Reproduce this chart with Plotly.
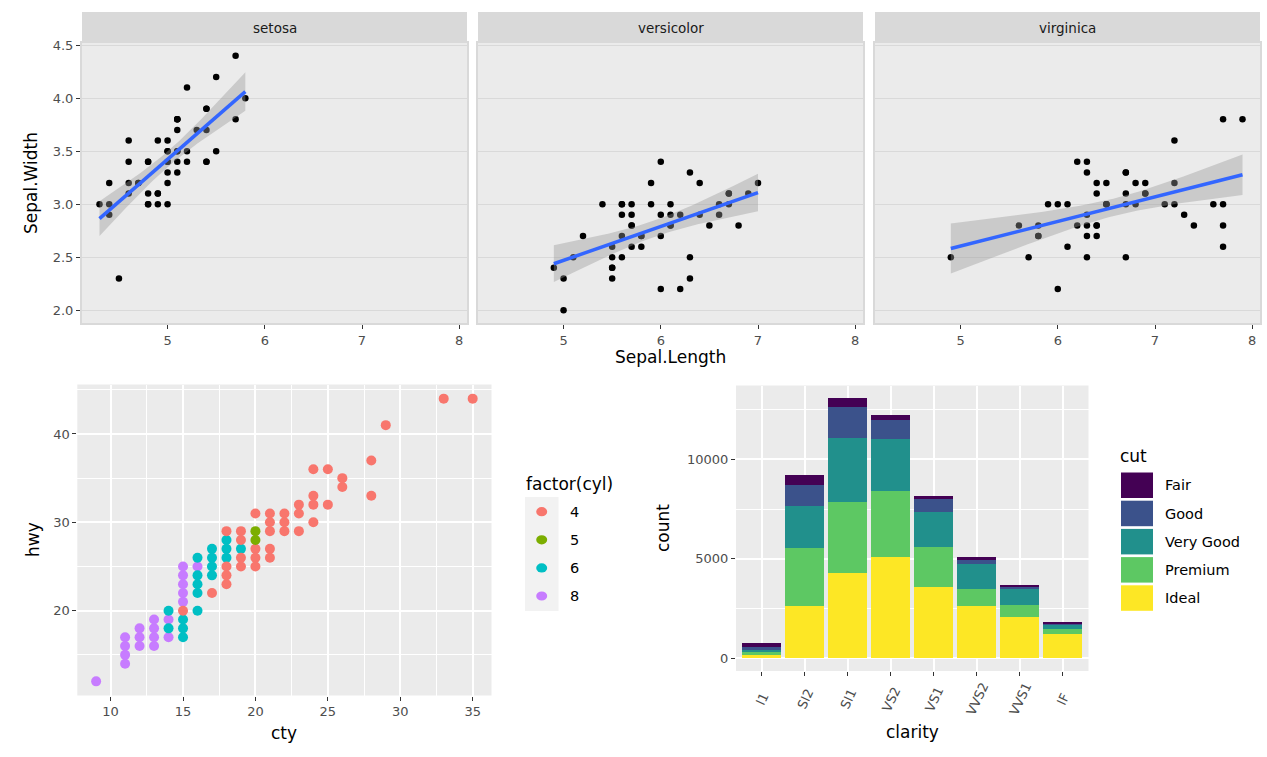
import numpy as np
import plotly.graph_objects as go

# ---------------- DATA ----------------
# iris (Sepal.Length / Sepal.Width) by species
species = ["setosa", "versicolor", "virginica"]
setosa_sl = [5.1,4.9,4.7,4.6,5.0,5.4,4.6,5.0,4.4,4.9,5.4,4.8,4.8,4.3,5.8,5.7,5.4,5.1,5.7,5.1,
             5.4,5.1,4.6,5.1,4.8,5.0,5.0,5.2,5.2,4.7,4.8,5.4,5.2,5.5,4.9,5.0,5.5,4.9,4.4,5.1,
             5.0,4.5,4.4,5.0,5.1,4.8,5.1,4.6,5.3,5.0]
setosa_sw = [3.5,3.0,3.2,3.1,3.6,3.9,3.4,3.4,2.9,3.1,3.7,3.4,3.0,3.0,4.0,4.4,3.9,3.5,3.8,3.8,
             3.4,3.7,3.6,3.3,3.4,3.0,3.4,3.5,3.4,3.2,3.1,3.4,4.1,4.2,3.1,3.2,3.5,3.6,3.0,3.4,
             3.5,2.3,3.2,3.5,3.8,3.0,3.8,3.2,3.7,3.3]
versicolor_sl = [7.0,6.4,6.9,5.5,6.5,5.7,6.3,4.9,6.6,5.2,5.0,5.9,6.0,6.1,5.6,6.7,5.6,5.8,6.2,5.6,
                 5.9,6.1,6.3,6.1,6.4,6.6,6.8,6.7,6.0,5.7,5.5,5.5,5.8,6.0,5.4,6.0,6.7,6.3,5.6,5.5,
                 5.5,6.1,5.8,5.0,5.6,5.7,5.7,6.2,5.1,5.7]
versicolor_sw = [3.2,3.2,3.1,2.3,2.8,2.8,3.3,2.4,2.9,2.7,2.0,3.0,2.2,2.9,2.9,3.1,3.0,2.7,2.2,2.5,
                 3.2,2.8,2.5,2.8,2.9,3.0,2.8,3.0,2.9,2.6,2.4,2.4,2.7,2.7,3.0,3.4,3.1,2.3,3.0,2.5,
                 2.6,3.0,2.6,2.3,2.7,3.0,2.9,2.9,2.5,2.8]
virginica_sl = [6.3,5.8,7.1,6.3,6.5,7.6,4.9,7.3,6.7,7.2,6.5,6.4,6.8,5.7,5.8,6.4,6.5,7.7,7.7,6.0,
                6.9,5.6,7.7,6.3,6.7,7.2,6.2,6.1,6.4,7.2,7.4,7.9,6.4,6.3,6.1,7.7,6.3,6.4,6.0,6.9,
                6.7,6.9,5.8,6.8,6.7,6.7,6.3,6.5,6.2,5.9]
virginica_sw = [3.3,2.7,3.0,2.9,3.0,3.0,2.5,2.9,2.5,3.6,3.2,2.7,3.0,2.5,2.8,3.2,3.0,3.8,2.6,2.2,
                3.2,2.8,2.8,2.7,3.3,3.2,2.8,3.0,2.8,3.0,2.8,3.8,2.8,2.8,2.6,3.0,3.4,3.1,3.0,3.1,
                3.1,3.1,2.7,3.2,3.3,3.0,2.5,3.0,3.4,3.0]
sl_ticks = [5, 6, 7, 8]
sw_ticks = [2.0, 2.5, 3.0, 3.5, 4.0, 4.5]

# mpg: distinct (cty, hwy) positions visible, by cylinders
cyl_levels = [4, 5, 6, 8]
cyl8_cty = [9, 11, 11, 11, 11, 12, 12, 12, 13, 13, 13, 13, 14, 14, 15, 15, 15, 15, 15, 16]
cyl8_hwy = [12, 14, 15, 16, 17, 16, 17, 18, 16, 17, 18, 19, 17, 19, 21, 22, 23, 24, 25, 25]
cyl6_cty = [14, 14, 15, 15, 15, 16, 16, 16, 16, 16, 17, 17, 17, 17, 18, 18, 18, 19]
cyl6_hwy = [20, 18, 19, 18, 17, 26, 24, 23, 22, 20, 27, 26, 25, 24, 28, 27, 26, 27]
cyl4_cty = [15, 17, 18, 18, 18, 18, 19, 19, 19, 19, 20, 20, 20, 20, 21, 21, 21, 21, 21,
            22, 22, 22, 23, 23, 23, 24, 24, 24, 24, 25, 25, 26, 26, 28, 28, 29, 33, 35]
cyl4_hwy = [20, 22, 29, 25, 24, 23, 29, 28, 26, 25, 31, 27, 26, 25, 31, 30, 29, 27, 26,
            31, 30, 29, 32, 31, 29, 30, 32, 33, 36, 32, 36, 34, 35, 33, 37, 41, 44, 44]
cyl5_cty = [20, 20]
cyl5_hwy = [29, 28]
cty_ticks = [10, 15, 20, 25, 30, 35]
hwy_ticks = [20, 30, 40]

# diamonds: counts by clarity (x) and cut (stack)
clarity = ["I1", "SI2", "SI1", "VS2", "VS1", "VVS2", "VVS1", "IF"]
cuts = ["Fair", "Good", "Very Good", "Premium", "Ideal"]
fair = [210, 466, 408, 261, 170, 69, 17, 9]
good = [96, 1081, 1560, 978, 648, 286, 186, 71]
very_good = [84, 2100, 3240, 2591, 1775, 1235, 789, 268]
premium = [205, 2949, 3575, 3357, 1989, 870, 616, 230]
ideal = [146, 2598, 4282, 5071, 3589, 2606, 2047, 1212]
count_ticks = [0, 5000, 10000]

# ---------------- STYLE ----------------
W, H = 1267, 757
def px(x): return x / W
def py(y): return 1 - y / H

FONT = "DejaVu Sans, Liberation Sans, Arial, sans-serif"
TICK_FONT = dict(family=FONT, size=13, color="#4D4D4D")
TITLE_FONT = dict(family=FONT, size=17, color="black")
LEG_FONT = dict(family=FONT, size=14.5, color="black")
HUE = {4: "#F8766D", 5: "#7CAE00", 6: "#00BFC4", 8: "#C77CFF"}
VIRIDIS = {"Fair": "#440154", "Good": "#3B528B", "Very Good": "#21908C",
           "Premium": "#5DC863", "Ideal": "#FDE725"}

def expand(lo, hi, mult=0.05):
    span = hi - lo
    return [lo - mult * span, hi + mult * span]

fig = go.Figure()

# ---------------- TOP: iris facets ----------------
iris = {"setosa": (setosa_sl, setosa_sw),
        "versicolor": (versicolor_sl, versicolor_sw),
        "virginica": (virginica_sl, virginica_sw)}
T975_48 = 2.0106348
axis_ids = ["", "2", "3"]
for sp, aid in zip(species, axis_ids):
    xs = np.array(iris[sp][0], dtype=float)
    ys = np.array(iris[sp][1], dtype=float)
    xa, ya = "x" + aid, "y" + aid
    fig.add_trace(go.Scatter(x=xs, y=ys, mode="markers", xaxis=xa, yaxis=ya,
                             marker=dict(color="black", size=6.5), showlegend=False,
                             hoverinfo="skip"))
    # linear model smoother with 95% CI (as geom_smooth(method = "lm"))
    n = len(xs)
    xbar = xs.mean()
    sxx = ((xs - xbar) ** 2).sum()
    b = ((xs - xbar) * (ys - ys.mean())).sum() / sxx
    a = ys.mean() - b * xbar
    s = np.sqrt(((ys - (a + b * xs)) ** 2).sum() / (n - 2))
    grid = np.linspace(xs.min(), xs.max(), 80)
    fit = a + b * grid
    se = s * np.sqrt(1.0 / n + (grid - xbar) ** 2 / sxx)
    lo, hi = fit - T975_48 * se, fit + T975_48 * se
    fig.add_trace(go.Scatter(x=np.concatenate([grid, grid[::-1]]),
                             y=np.concatenate([hi, lo[::-1]]),
                             fill="toself", fillcolor="rgba(153,153,153,0.4)",
                             mode="lines", line=dict(width=0), xaxis=xa, yaxis=ya,
                             showlegend=False, hoverinfo="skip"))
    fig.add_trace(go.Scatter(x=grid, y=fit, mode="lines", xaxis=xa, yaxis=ya,
                             line=dict(color="#3366FF", width=3.5), showlegend=False,
                             hoverinfo="skip"))

all_sl = setosa_sl + versicolor_sl + virginica_sl
all_sw = setosa_sw + versicolor_sw + virginica_sw
sl_range = expand(min(all_sl), max(all_sl))
sw_range = expand(min(all_sw), max(all_sw))

top_panels = [(82, 467), (478, 863), (875, 1260)]
TOP_Y0, TOP_Y1 = 43, 323
for i, ((x0, x1), aid) in enumerate(zip(top_panels, axis_ids)):
    xkey = "xaxis" + aid
    ykey = "yaxis" + aid
    fig.layout[xkey] = dict(domain=[px(x0), px(x1)], anchor="y" + aid, range=sl_range,
                            tickmode="array", tickvals=sl_ticks, ticks="outside", ticklen=4,
                            tickwidth=1, tickcolor="#333333", showgrid=False, zeroline=False,
                            showline=True, mirror=True, linecolor="#D9D9D9", linewidth=2,
                            tickfont=TICK_FONT, automargin=False)
    fig.layout[ykey] = dict(domain=[py(TOP_Y1), py(TOP_Y0)], anchor="x" + aid, range=sw_range,
                            tickmode="array", tickvals=sw_ticks, tickformat=".1f",
                            ticks="outside" if i == 0 else "", ticklen=4, tickwidth=1,
                            tickcolor="#333333", showticklabels=(i == 0),
                            showgrid=True, gridcolor="#D9D9D9", gridwidth=1.3,
                            zeroline=False, showline=True, mirror=True,
                            linecolor="#D9D9D9", linewidth=2, tickfont=TICK_FONT,
                            automargin=False)

shapes = []
annotations = []
for (x0, x1), sp in zip(top_panels, species):
    shapes.append(dict(type="rect", xref="paper", yref="paper", x0=px(x0), x1=px(x1),
                       y0=py(TOP_Y0), y1=py(12), fillcolor="#D9D9D9", line=dict(width=0)))
    annotations.append(dict(text=sp, xref="paper", yref="paper", x=px((x0 + x1) / 2),
                            y=py(28), showarrow=False, xanchor="center", yanchor="middle",
                            font=dict(family=FONT, size=13.5, color="#1A1A1A")))

annotations.append(dict(text="Sepal.Length", xref="paper", yref="paper", x=px(670), y=py(357),
                        showarrow=False, xanchor="center", yanchor="middle", font=TITLE_FONT))
annotations.append(dict(text="Sepal.Width", xref="paper", yref="paper", x=px(31), y=py(183),
                        showarrow=False, xanchor="center", yanchor="middle", textangle=-90,
                        font=TITLE_FONT))

# ---------------- BOTTOM LEFT: mpg scatter ----------------
mpg = {8: (cyl8_cty, cyl8_hwy), 6: (cyl6_cty, cyl6_hwy),
       4: (cyl4_cty, cyl4_hwy), 5: (cyl5_cty, cyl5_hwy)}
for cyl in [8, 6, 4, 5]:
    c, h = mpg[cyl]
    fig.add_trace(go.Scatter(x=c, y=h, mode="markers", xaxis="x4", yaxis="y4",
                             marker=dict(color=HUE[cyl], size=10), name=str(cyl),
                             showlegend=False, hoverinfo="skip"))

all_cty = cyl4_cty + cyl5_cty + cyl6_cty + cyl8_cty
all_hwy = cyl4_hwy + cyl5_hwy + cyl6_hwy + cyl8_hwy
fig.layout["xaxis4"] = dict(domain=[px(77.3), px(491.5)], anchor="y4",
                            range=expand(min(all_cty), max(all_cty)),
                            tickmode="array", tickvals=cty_ticks, ticks="outside", ticklen=4,
                            tickwidth=1, tickcolor="#333333", showgrid=True, gridcolor="white",
                            gridwidth=2, zeroline=False, showline=False, tickfont=TICK_FONT,
                            automargin=False,
                            minor=dict(tickmode="linear", tick0=0, dtick=2.5, showgrid=True,
                                       gridcolor="white", gridwidth=1))
fig.layout["yaxis4"] = dict(domain=[py(695.5), py(384.5)], anchor="x4",
                            range=expand(min(all_hwy), max(all_hwy)),
                            tickmode="array", tickvals=hwy_ticks, ticks="outside", ticklen=4,
                            tickwidth=1, tickcolor="#333333", showgrid=True, gridcolor="white",
                            gridwidth=2, zeroline=False, showline=False, tickfont=TICK_FONT,
                            automargin=False,
                            minor=dict(tickmode="linear", tick0=0, dtick=5, showgrid=True,
                                       gridcolor="white", gridwidth=1))
annotations.append(dict(text="cty", xref="paper", yref="paper", x=px(284), y=py(733),
                        showarrow=False, xanchor="center", yanchor="middle", font=TITLE_FONT))
annotations.append(dict(text="hwy", xref="paper", yref="paper", x=px(33), y=py(540),
                        showarrow=False, xanchor="center", yanchor="middle", textangle=-90,
                        font=TITLE_FONT))

# legend factor(cyl)
annotations.append(dict(text="factor(cyl)", xref="paper", yref="paper", x=px(524), y=py(484),
                        showarrow=False, xanchor="left", yanchor="middle", font=TITLE_FONT))
shapes.append(dict(type="rect", xref="paper", yref="paper", x0=px(525), x1=px(558.5),
                   y0=py(611), y1=py(497), fillcolor="#F2F2F2", line=dict(width=0)))
for k, cyl in enumerate(cyl_levels):
    cy = 511.7 + 28.1 * k
    shapes.append(dict(type="circle", xref="paper", yref="paper", xsizemode="pixel",
                       ysizemode="pixel", xanchor=px(541.7), yanchor=py(cy),
                       x0=-5.5, x1=5.5, y0=-4.6, y1=4.6, fillcolor=HUE[cyl],
                       line=dict(width=0)))
    annotations.append(dict(text=str(cyl), xref="paper", yref="paper", x=px(568), y=py(cy),
                            showarrow=False, xanchor="left", yanchor="middle", font=LEG_FONT))

# ---------------- BOTTOM RIGHT: diamonds stacked bars ----------------
cut_counts = {"Fair": fair, "Good": good, "Very Good": very_good,
              "Premium": premium, "Ideal": ideal}
for cut in cuts[::-1]:  # Ideal at the bottom, Fair on top
    fig.add_trace(go.Bar(x=clarity, y=cut_counts[cut], name=cut, xaxis="x5", yaxis="y5",
                         marker=dict(color=VIRIDIS[cut], line=dict(width=0)), width=0.9,
                         showlegend=False, hoverinfo="skip"))

totals = [sum(v) for v in zip(fair, good, very_good, premium, ideal)]
fig.layout["xaxis5"] = dict(domain=[px(736), px(1088.5)], anchor="y5", type="category",
                            categoryorder="array", categoryarray=clarity,
                            range=[-0.6, len(clarity) - 1 + 0.6],
                            ticks="outside", ticklen=4, tickwidth=1, tickcolor="#333333",
                            showticklabels=False, showgrid=True, gridcolor="white",
                            gridwidth=2, zeroline=False, showline=False, automargin=False)
fig.layout["yaxis5"] = dict(domain=[py(671), py(385.5)], anchor="x5",
                            range=expand(0, max(totals)), tickmode="array",
                            tickvals=count_ticks, tickformat="d", ticks="outside", ticklen=4,
                            tickwidth=1, tickcolor="#333333", showgrid=True, gridcolor="white",
                            gridwidth=2, zeroline=False, showline=False, tickfont=TICK_FONT,
                            automargin=False,
                            minor=dict(tickmode="linear", tick0=0, dtick=2500, showgrid=True,
                                       gridcolor="white", gridwidth=1))
for c in clarity:
    annotations.append(dict(text=c, xref="x5", yref="paper", x=c, y=py(699),
                            showarrow=False, xanchor="center", yanchor="middle",
                            textangle=-65, font=TICK_FONT))
annotations.append(dict(text="clarity", xref="paper", yref="paper", x=px(912), y=py(732),
                        showarrow=False, xanchor="center", yanchor="middle", font=TITLE_FONT))
annotations.append(dict(text="count", xref="paper", yref="paper", x=px(663), y=py(528),
                        showarrow=False, xanchor="center", yanchor="middle", textangle=-90,
                        font=TITLE_FONT))

# legend cut
annotations.append(dict(text="cut", xref="paper", yref="paper", x=px(1118), y=py(456),
                        showarrow=False, xanchor="left", yanchor="middle", font=TITLE_FONT))
for k, cut in enumerate(cuts):
    top = 472.5 + 28.2 * k
    shapes.append(dict(type="rect", xref="paper", yref="paper", x0=px(1121), x1=px(1153),
                       y0=py(top + 25.5), y1=py(top), fillcolor=VIRIDIS[cut],
                       line=dict(width=0)))
    annotations.append(dict(text=cut, xref="paper", yref="paper", x=px(1163),
                            y=py(top + 12.8), showarrow=False, xanchor="left",
                            yanchor="middle", font=LEG_FONT))

fig.update_layout(width=W, height=H, autosize=False,
                  margin=dict(l=0, r=0, t=0, b=0, pad=0, autoexpand=False),
                  paper_bgcolor="white", plot_bgcolor="#EBEBEB",
                  showlegend=False, barmode="stack",
                  shapes=shapes, annotations=annotations,
                  font=dict(family=FONT))

fig.write_html("out.html", config={"displayModeBar": False},
               post_script="document.body.style.margin='0';document.body.style.overflow='hidden';")
